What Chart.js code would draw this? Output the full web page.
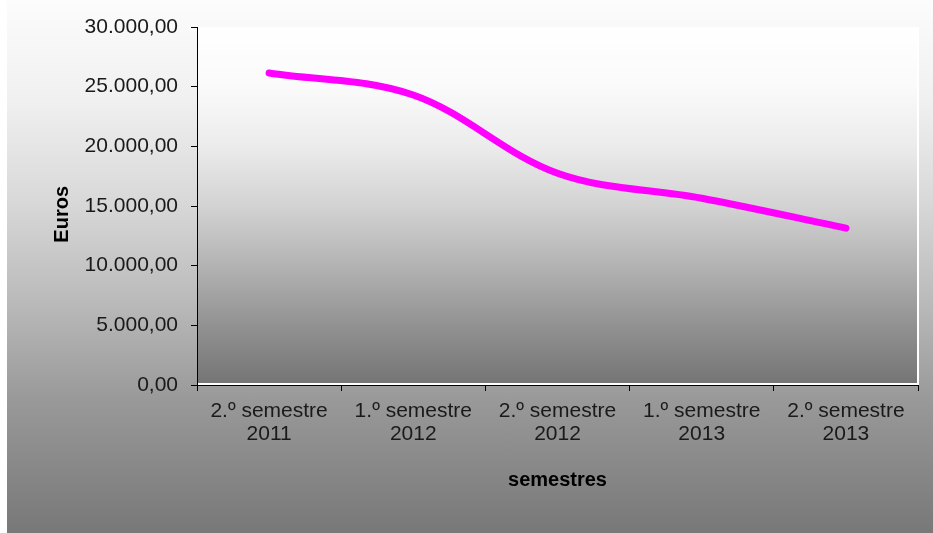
<!DOCTYPE html>
<html>
<head>
<meta charset="utf-8">
<script src="https://cdn.jsdelivr.net/npm/chart.js@4.4.0/dist/chart.umd.min.js"></script>
<style>
  html, body { margin: 0; padding: 0; background: #fff; }
  #wrap {
    position: absolute; left: 7px; top: 0; width: 926px; height: 533px;
    background: linear-gradient(to bottom, #fcfcfc 0%, #f0f0f0 19%, #d8d8d8 38%, #bbbbbb 56%, #999999 75%, #787878 100%);
  }
</style>
</head>
<body>
<div id="wrap"><canvas id="grafico" width="926" height="533"></canvas></div>
<script>
// Datos
const semestres = [
    ['2.º semestre', '2011'],
    ['1.º semestre', '2012'],
    ['2.º semestre', '2012'],
    ['1.º semestre', '2013'],
    ['2.º semestre', '2013']
];
const euros = [26150, 24300, 17750, 15650, 13150];
const yTicks = [0, 5000, 10000, 15000, 20000, 25000, 30000];

// formato 30.000,00
function formatoEuros(v) {
    const partes = Number(v).toFixed(2).split('.');
    partes[0] = partes[0].replace(/\B(?=(\d{3})+(?!\d))/g, '.');
    return partes.join(',');
}

// fondo degradado del área de trazado
const fondoArea = {
    id: 'fondoArea',
    beforeDraw(chart) {
        const { ctx, chartArea: a } = chart;
        const g = ctx.createLinearGradient(0, a.top, 0, a.bottom);
        g.addColorStop(0, '#ffffff');
        g.addColorStop(0.169, '#fafafa');
        g.addColorStop(0.337, '#ebebeb');
        g.addColorStop(0.503, '#d2d2d2');
        g.addColorStop(0.671, '#b2b2b2');
        g.addColorStop(0.837, '#919191');
        g.addColorStop(1, '#747474');
        ctx.save();
        ctx.fillStyle = g;
        ctx.fillRect(a.left, a.top, a.right - a.left, a.bottom - a.top);
        ctx.strokeStyle = '#ffffff';
        ctx.lineWidth = 2;
        ctx.beginPath();
        ctx.moveTo(a.right, a.top);
        ctx.lineTo(a.right, a.bottom - 1);
        ctx.lineTo(a.left, a.bottom - 1);
        ctx.stroke();
        ctx.restore();
    }
};

const fuente = 'Liberation Sans, Arial, sans-serif';

const ctx = document.getElementById('grafico').getContext('2d');
const grafico = new Chart(ctx, {
    type: 'line',
    data: {
        labels: semestres,
        datasets: [{
            label: 'Euros',
            data: euros,
            borderColor: '#ff00ff',
            borderWidth: 7,
            borderCapStyle: 'round',
            borderJoinStyle: 'round',
            tension: 0.35,
            pointRadius: 0,
            fill: false
        }]
    },
    options: {
        responsive: false,
        animation: false,
        layout: { padding: { left: 0, top: 27, right: 15, bottom: 0 } },
        plugins: {
            legend: { display: false },
            tooltip: { enabled: false }
        },
        scales: {
            x: {
                offset: true,
                afterFit(scale) { scale.height = 148; },
                grid: {
                    offset: true,
                    drawOnChartArea: false,
                    tickLength: 6,
                    color: '#000'
                },
                border: { color: '#000', width: 1 },
                ticks: {
                    color: '#1a1a1a',
                    padding: 9,
                    maxRotation: 0,
                    font: { family: fuente, size: 21, lineHeight: 1.1 }
                },
                title: {
                    display: true,
                    text: 'semestres',
                    color: '#000',
                    padding: { top: 0, bottom: 41 },
                    font: { family: fuente, size: 20, weight: 'bold' }
                }
            },
            y: {
                min: 0,
                max: 30000,
                afterFit(scale) { scale.width = 190; },
                afterBuildTicks(scale) { scale.ticks = yTicks.map(v => ({ value: v })); },
                grid: {
                    drawOnChartArea: false,
                    tickLength: 6,
                    color: '#000'
                },
                border: { color: '#000', width: 1 },
                ticks: {
                    color: '#1a1a1a',
                    padding: 13,
                    callback: v => formatoEuros(v),
                    font: { family: fuente, size: 21 }
                },
                title: {
                    display: true,
                    text: 'Euros\u00a0\u00a0\u00a0',
                    color: '#000',
                    padding: { top: 43, bottom: 0 },
                    font: { family: fuente, size: 20, weight: 'bold' }
                }
            }
        }
    },
    plugins: [fondoArea]
});
</script>
</body>
</html>
